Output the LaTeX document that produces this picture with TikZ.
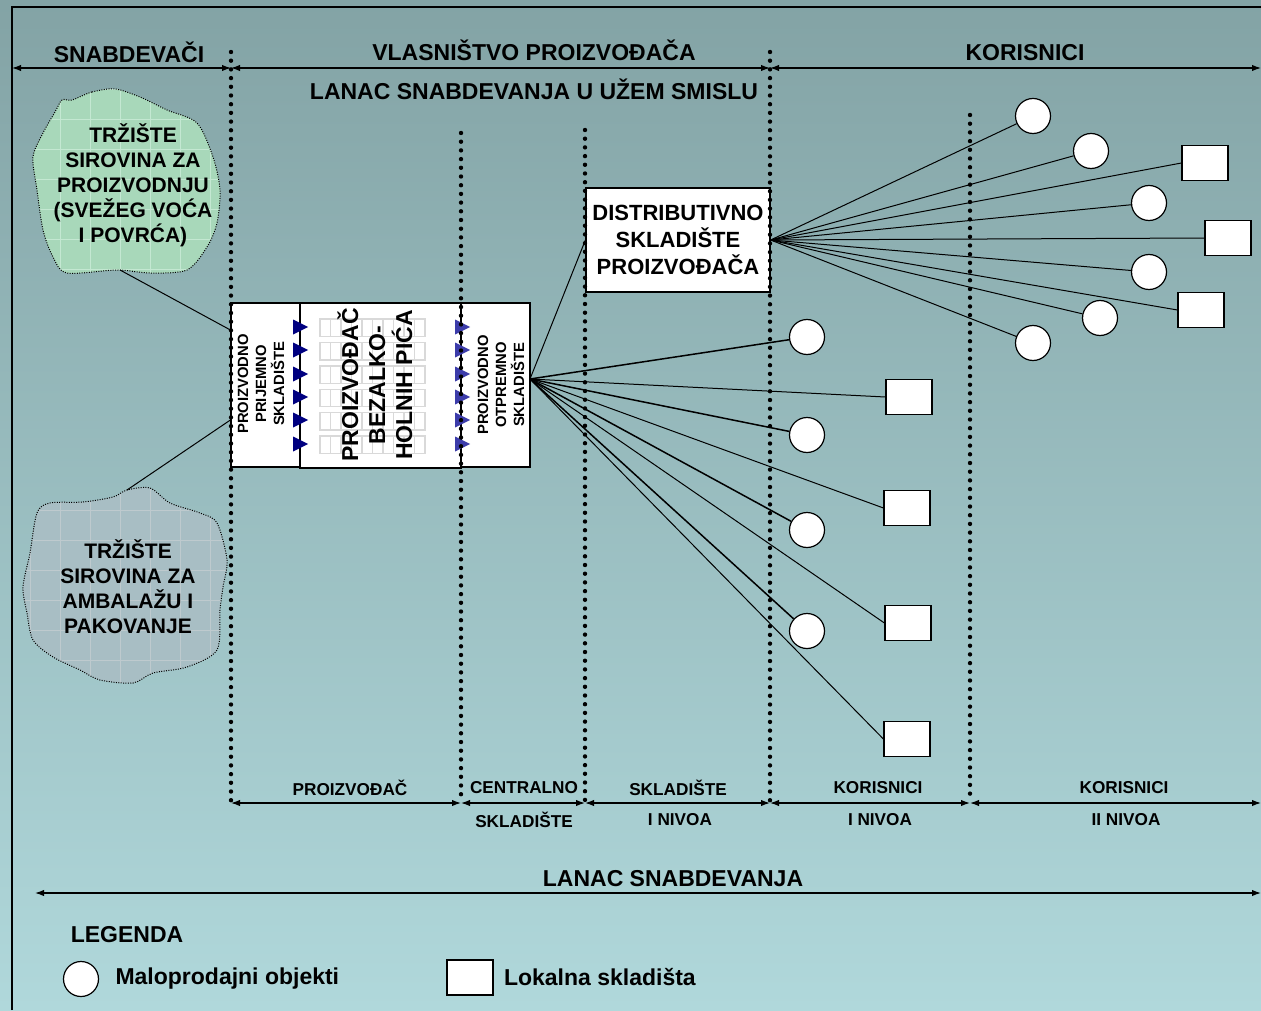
\documentclass[tikz,border=0pt]{standalone}
\usepackage{fontspec}
\setmainfont{Liberation Sans}
\usetikzlibrary{positioning,arrows.meta}

\definecolor{bgtop}{RGB}{131,163,165}
\definecolor{bgbot}{RGB}{176,216,219}
\definecolor{mktgreen}{RGB}{168,216,186}
\definecolor{mktgreenln}{RGB}{196,232,210}
\definecolor{mktgrey}{RGB}{168,190,196}
\definecolor{mktgreyln}{RGB}{190,202,206}
\definecolor{navytri}{RGB}{0,0,128}
\definecolor{bluetri}{RGB}{60,60,170}

\tikzset{
  sep/.style={line width=2.2pt, dash pattern=on 0pt off 4.35pt, line cap=round},
  spanarrow/.style={{Latex[length=4.5pt,width=3.2pt]}-{Latex[length=4.5pt,width=3.2pt]}, line width=0.6pt},
  link/.style={line width=0.5pt},
  boldlink/.style={line width=0.75pt},
  box/.style={draw, fill=white, line width=0.6pt, inner sep=0pt},
  shop/.style={circle, draw, fill=white, line width=0.6pt, minimum size=17.5pt, inner sep=0pt},
  depot/.style={rectangle, draw, fill=white, line width=0.6pt, minimum width=23pt, minimum height=17.5pt, inner sep=0pt},
  cloudedge/.style={line width=0.5pt, dash pattern=on 0.5pt off 0.7pt},
  rack/.style={draw=gray!30, line width=0.7pt},
  head/.style={font=\bfseries\fontsize{11.5}{13.5}\selectfont, inner sep=0pt},
  cloudtxt/.style={align=center, inner sep=0pt, font=\bfseries\fontsize{10.5}{12.5}\selectfont},
  vsmall/.style={rotate=90, align=center, inner sep=0pt, font=\bfseries\fontsize{7.4}{9}\selectfont},
  vbig/.style={rotate=90, align=center, inner sep=0pt, font=\bfseries\fontsize{11.5}{13.5}\selectfont},
  lvl/.style={font=\bfseries\fontsize{8.6}{10}\selectfont, inner sep=0pt},
}

\begin{document}
\begin{tikzpicture}[x=0.5pt,y=-0.5pt]

  % Background
  \useasboundingbox (0,0) rectangle (1261,1010);
  \shade[top color=bgtop, bottom color=bgbot] (0,0) rectangle (1261,1010);
  \draw[line width=1pt] (12,1010) -- (12,7) -- (1261,7);

  % Clouds
  \begin{scope}
    \clip plot[smooth cycle] coordinates {(72,100) (92,92) (115,89) (140,97) (167,110) (197,123) (213,157) (220,190) (217,223) (207,247) (187,270) (150,273) (117,270) (67,273) (53,257) (43,230) (37,190) (33,157) (43,133) (55,112) (62,100)};
    \fill[mktgreen] (20,80) rectangle (240,290);
    \draw[mktgreenln, line width=0.5pt, step=15pt] (20,80) grid (240,290);
  \end{scope}
  \draw[cloudedge] plot[smooth cycle] coordinates {(72,100) (92,92) (115,89) (140,97) (167,110) (197,123) (213,157) (220,190) (217,223) (207,247) (187,270) (150,273) (117,270) (67,273) (53,257) (43,230) (37,190) (33,157) (43,133) (55,112) (62,100)};

  \begin{scope}
    \clip plot[smooth cycle] coordinates {(50,503) (83,502) (113,497) (127,490) (150,488) (170,503) (200,513) (217,523) (227,560) (223,587) (220,610) (217,650) (187,667) (153,673) (133,683) (100,680) (80,670) (53,657) (33,640) (27,613) (23,587) (30,553) (37,513)};
    \fill[mktgrey] (10,480) rectangle (240,700);
    \draw[mktgreyln, line width=0.5pt, step=15pt] (10,480) grid (240,700);
  \end{scope}
  \draw[cloudedge] plot[smooth cycle] coordinates {(50,503) (83,502) (113,497) (127,490) (150,488) (170,503) (200,513) (217,523) (227,560) (223,587) (220,610) (217,650) (187,667) (153,673) (133,683) (100,680) (80,670) (53,657) (33,640) (27,613) (23,587) (30,553) (37,513)};

  \node[cloudtxt] (mkt_a) at (133,185) {TRŽIŠTE\\SIROVINA ZA\\PROIZVODNJU\\(SVEŽEG VOĆA\\I POVRĆA)};
  \node[cloudtxt] (mkt_b) at (128,587) {TRŽIŠTE\\SIROVINA ZA\\AMBALAŽU I\\PAKOVANJE};
  \coordinate (mkt_a_tip) at (120,270);
  \coordinate (mkt_b_tip) at (127,490);

  % Factory
  \node[box, minimum width=34.5pt, minimum height=82pt] (recv) at (265.5,385) {};
  \node[box, minimum width=80.5pt, minimum height=82.5pt] (plant) at (380.5,385.5) {};
  \node[box, minimum width=34.5pt, minimum height=82pt] (ship) at (495.5,385) {};
  \foreach \r in {0,...,5} {
    \draw[rack] (320,319+23.4*\r) rectangle (425,336.5+23.4*\r);
    \foreach \c in {1,...,9}
      \draw[rack] (320+10.5*\c,319+23.4*\r) -- (320+10.5*\c,336.5+23.4*\r);
  }
  \node[vsmall] (recv_txt) at (261,384) {PROIZVODNO\\PRIJEMNO\\SKLADIŠTE};
  \node[vbig] (plant_txt) at (375,385) {PROIZVOĐAČ\\BEZALKO-\\HOLNIH PIĆA};
  \node[vsmall] (ship_txt) at (501,385) {PROIZVODNO\\OTPREMNO\\SKLADIŠTE};
  \foreach \t in {327,350,374,397,420,444} {
    \fill[navytri] (293,\t-7.5) -- (293,\t+7.5) -- (308,\t) -- cycle;
    \fill[bluetri] (455,\t-7.5) -- (455,\t+7.5) -- (470,\t) -- cycle;
  }
  \coordinate (ship_hub) at (530,379);

  % Distribution warehouse
  \node[box, minimum width=92pt, minimum height=52pt, align=center, font=\bfseries\fontsize{11}{13.5}\selectfont] (dist) at (678,240) {DISTRIBUTIVNO\\SKLADIŠTE\\PROIZVOĐAČA};

  % Level I users
  \node[shop] (c_i_1) at (807,337) {};
  \node[shop] (c_i_2) at (807,435) {};
  \node[shop] (c_i_3) at (807,530) {};
  \node[shop] (c_i_4) at (807,631) {};
  \node[depot] (s_i_1) at (909,397) {};
  \node[depot] (s_i_2) at (907,508) {};
  \node[depot] (s_i_3) at (908,623) {};
  \node[depot] (s_i_4) at (907,739) {};

  % Level II users
  \node[shop] (c_ii_1) at (1033,116) {};
  \node[shop] (c_ii_2) at (1091,151) {};
  \node[shop] (c_ii_3) at (1149,203) {};
  \node[shop] (c_ii_4) at (1149,272) {};
  \node[shop] (c_ii_5) at (1100,318) {};
  \node[shop] (c_ii_6) at (1033,343) {};
  \node[depot] (s_ii_1) at (1205,163) {};
  \node[depot] (s_ii_2) at (1228,238) {};
  \node[depot] (s_ii_3) at (1201,310) {};

  % Edges
  \draw[link] (mkt_a_tip) -- ([yshift=27.5pt]recv.west);
  \draw[link] (mkt_b_tip) -- ([yshift=-17.5pt]recv.west);
  \draw[link] (ship_hub) -- (dist.west);

  \draw[boldlink] (ship_hub) -- (c_i_1);
  \draw[link] (ship_hub) -- (s_i_1.west);
  \draw[boldlink] (ship_hub) -- (c_i_2);
  \draw[link] (ship_hub) -- (s_i_2.west);
  \draw[boldlink] (ship_hub) -- (c_i_3);
  \draw[link] (ship_hub) -- (s_i_3.west);
  \draw[boldlink] (ship_hub) -- (c_i_4);
  \draw[link] (ship_hub) -- (s_i_4.west);

  \draw[link] (dist.east) -- (c_ii_1);
  \draw[link] (dist.east) -- (c_ii_2);
  \draw[link] (dist.east) -- (s_ii_1.west);
  \draw[link] (dist.east) -- (c_ii_3);
  \draw[link] (dist.east) -- (s_ii_2.west);
  \draw[link] (dist.east) -- (c_ii_4);
  \draw[link] (dist.east) -- (s_ii_3.west);
  \draw[link] (dist.east) -- (c_ii_5);
  \draw[link] (dist.east) -- (c_ii_6);

  % Separators
  \draw[sep] (231,52) -- (231,808);
  \draw[sep] (461,133) -- (461,801);
  \draw[sep] (585,130) -- (585,801);
  \draw[sep] (770,52) -- (770,808);
  \draw[sep] (970,115) -- (970,801);

  % Spans
  \coordinate (t0) at (12,68);
  \coordinate (t1) at (231,68);
  \coordinate (t2) at (770,68);
  \coordinate (t3) at (1261,68);
  \draw[spanarrow] (t0) -- (t1);
  \draw[spanarrow] (t1) -- (t2);
  \draw[spanarrow] (t2) -- (t3);

  \coordinate (b0) at (231,803);
  \coordinate (b1) at (461,803);
  \coordinate (b2) at (585,803);
  \coordinate (b3) at (770,803);
  \coordinate (b4) at (970,803);
  \coordinate (b5) at (1261,803);
  \draw[spanarrow] (b0) -- (b1);
  \draw[spanarrow] (b1) -- (b2);
  \draw[spanarrow] (b2) -- (b3);
  \draw[spanarrow] (b3) -- (b4);
  \draw[spanarrow] (b4) -- (b5);

  \coordinate (l0) at (35,893);
  \coordinate (l1) at (1261,893);
  \draw[spanarrow] (l0) -- (l1);

  % Labels
  \node[head] (lbl_sup) at (129,52) {SNABDEVAČI};
  \node[head] (lbl_own) at (534,50) {VLASNIŠTVO PROIZVOĐAČA};
  \node[head] (lbl_usr) at (1025,53) {KORISNICI};
  \node[head] (lbl_narrow) at (534,89) {LANAC SNABDEVANJA U UŽEM SMISLU};

  \node[lvl] (lbl_prod) at (350,788) {PROIZVOĐAČ};
  \node[lvl] (lbl_cen) at (524,788) {CENTRALNO};
  \node[lvl] (lbl_cen2) at (524,820) {SKLADIŠTE};
  \node[lvl] (lbl_wh) at (678,788) {SKLADIŠTE};
  \node[lvl] (lbl_wh2) at (680,820) {I NIVOA};
  \node[lvl] (lbl_u1) at (878,788) {KORISNICI};
  \node[lvl] (lbl_u12) at (880,820) {I NIVOA};
  \node[lvl] (lbl_u2) at (1124,788) {KORISNICI};
  \node[lvl] (lbl_u22) at (1126,820) {II NIVOA};

  \node[head] (lbl_chain) at (673,879) {LANAC SNABDEVANJA};

  % Legend
  \node[head] (leg) at (127,935) {LEGENDA};
  \node[shop] (leg_shop) at (81,979) {};
  \node[head, right = 8pt of leg_shop] (leg_shop_txt) {Maloprodajni objekti};
  \node[depot] (leg_depot) at (470,977.5) {};
  \node[head, right = 5pt of leg_depot] (leg_depot_txt) {Lokalna skladišta};

\end{tikzpicture}
\end{document}
